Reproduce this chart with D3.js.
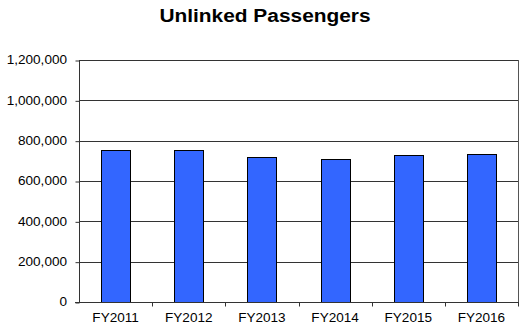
<!DOCTYPE html>
<html>
<head>
<meta charset="utf-8">
<script src="https://cdn.jsdelivr.net/npm/d3@7"></script>
<style>
  body { margin: 0; background: #fff; }
  text { font-family: Arial, "Liberation Sans", sans-serif; fill: #000; }
</style>
</head>
<body>
<svg id="chart" width="519" height="327"></svg>
<script>
// data
const years = ["FY2011", "FY2012", "FY2013", "FY2014", "FY2015", "FY2016"];
const passengers = [753000, 754000, 718000, 708000, 729000, 734000];
const yTicks = [0, 200000, 400000, 600000, 800000, 1000000, 1200000];

const svg = d3.select("#chart");
const plotLeft = 79, plotRight = 518, plotTop = 60, plotBottom = 302;
const stretch = 1.13; // text in the original is a bit wide

const x = d3.scaleBand().domain(years).range([plotLeft, plotRight]);
const y = d3.scaleLinear().domain([0, 1200000]).range([plotBottom, plotTop]);
const fmt = d3.format(",");

// title
svg.append("g")
    .attr("transform", "translate(265,21.5) scale(" + stretch + ",1)")
    .append("text")
    .attr("text-anchor", "middle")
    .style("font-size", "18.5px")
    .style("font-weight", "bold")
    .text("Unlinked Passengers");

// gridlines
svg.append("g")
    .selectAll("line")
    .data(yTicks.slice(1))
    .enter()
    .append("line")
    .attr("x1", plotLeft)
    .attr("x2", plotRight)
    .attr("y1", d => Math.round(y(d)) + 0.5)
    .attr("y2", d => Math.round(y(d)) + 0.5)
    .attr("stroke", "#333");

// right border of plot area
svg.append("line")
    .attr("x1", plotRight + 0.5).attr("x2", plotRight + 0.5)
    .attr("y1", y(1200000)).attr("y2", plotBottom)
    .attr("stroke", "#555");

// bars
const bw = 29;
svg.append("g")
    .selectAll("rect")
    .data(years)
    .enter()
    .append("rect")
    .attr("x", d => Math.round(x(d) + (x.bandwidth() - bw) / 2) + 0.5)
    .attr("y", (d, i) => Math.round(y(passengers[i])) + 0.5)
    .attr("width", bw)
    .attr("height", (d, i) => plotBottom - Math.round(y(passengers[i])))
    .attr("fill", "#3366FF")
    .attr("stroke", "#000")
    .attr("stroke-width", 1);

// y axis line + ticks
const yAxis = svg.append("g")
    .attr("transform", "translate(" + (plotLeft + 0.5) + ",0.5)")
    .call(d3.axisLeft(y).tickValues(yTicks).tickFormat("").tickSize(4));
yAxis.selectAll("line").attr("stroke", "#333");
yAxis.select(".domain").attr("stroke", "#333").attr("d", "M0," + y(1200000) + "V" + plotBottom);

// y labels
svg.append("g")
    .selectAll("g")
    .data(yTicks)
    .enter()
    .append("g")
    .attr("transform", d => "translate(67," + (y(d) + 4.3) + ") scale(" + stretch + ",1)")
    .append("text")
    .attr("text-anchor", "end")
    .style("font-size", "12px")
    .text(d => fmt(d));

// x axis
const xAxis = svg.append("g")
    .attr("transform", "translate(0," + (plotBottom + 0.5) + ")");
xAxis.append("line")
    .attr("x1", plotLeft - 4).attr("x2", plotRight + 1)
    .attr("stroke", "#333");
xAxis.selectAll(".tick")
    .data(years)
    .enter()
    .append("line")
    .attr("x1", d => Math.round(x(d) + x.bandwidth()) + 0.5)
    .attr("x2", d => Math.round(x(d) + x.bandwidth()) + 0.5)
    .attr("y1", 0).attr("y2", 4)
    .attr("stroke", "#333");
xAxis.selectAll("g.lbl")
    .data(years)
    .enter()
    .append("g")
    .attr("class", "lbl")
    .attr("transform", d => "translate(" + (x(d) + x.bandwidth() / 2) + ",19.5) scale(" + stretch + ",1)")
    .append("text")
    .attr("text-anchor", "middle")
    .style("font-size", "12px")
    .text(d => d);
</script>
</body>
</html>
